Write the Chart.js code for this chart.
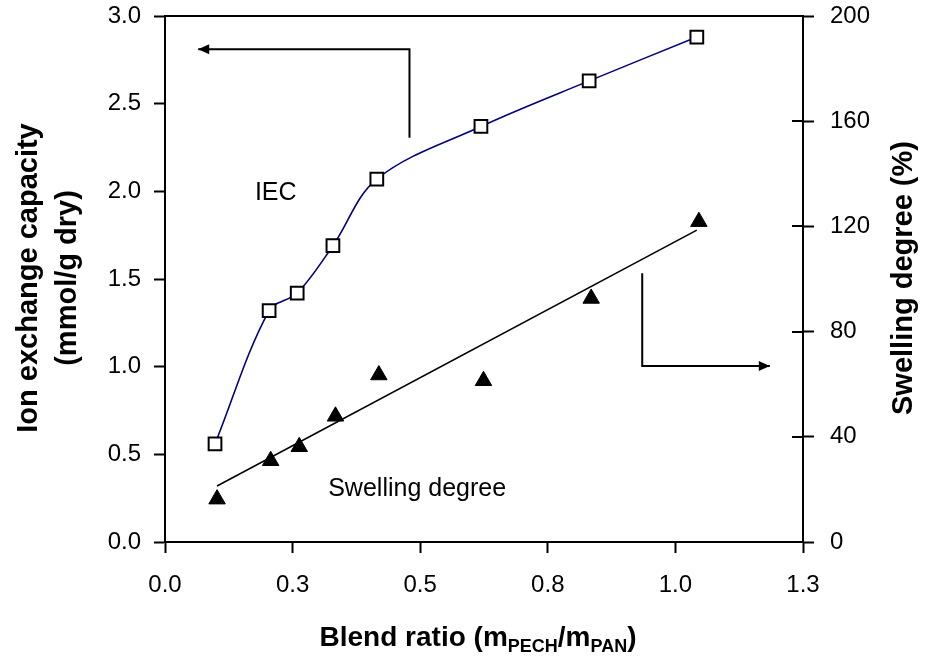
<!DOCTYPE html>
<html>
<head>
<meta charset="utf-8">
<script src="https://cdn.jsdelivr.net/npm/chart.js@4.4.1/dist/chart.umd.min.js"></script>
<style>
  html, body { margin: 0; padding: 0; background: #ffffff; }
  #IecSwellingStats { display: block; }
</style>
</head>
<body>
<canvas id="IecSwellingStats" width="925" height="660"></canvas>
<script>
//
//
// Data
var iecRatio = [0.098, 0.204, 0.259, 0.329, 0.415, 0.619, 0.831, 1.042];
var iecValue = [0.56, 1.32, 1.42, 1.69, 2.07, 2.37, 2.63, 2.88];

var swellRatio = [0.102, 0.207, 0.263, 0.334, 0.419, 0.624, 0.835, 1.046];
var swellValue = [16.3, 30.9, 36.2, 47.8, 63.5, 61.3, 92.6, 121.8];

// linear trend drawn through the swelling points (end points)
var trendRatio = [0.102, 1.042];
var trendValue = [21.3, 118.6];

var xTickLabels = ['0.0', '0.3', '0.5', '0.8', '1.0', '1.3'];
var yTickLabels = ['0.0', '0.5', '1.0', '1.5', '2.0', '2.5', '3.0'];
var y1TickLabels = ['0', '40', '80', '120', '160', '200'];

var FONT = "'Liberation Sans', Arial, Helvetica, sans-serif";

function toPoints(xs, ys){
  var pts = [];
  for (var i = 0; i < xs.length; i++){
    pts.push({ x: xs[i], y: ys[i] });
  }
  return pts;
}

//
//
// Arrow helper (polyline ending in a filled head)
function drawArrow(ctx, pts){
  ctx.beginPath();
  ctx.moveTo(pts[0][0], pts[0][1]);
  for (var i = 1; i < pts.length; i++){
    ctx.lineTo(pts[i][0], pts[i][1]);
  }
  ctx.stroke();

  var a = pts[pts.length - 2];
  var b = pts[pts.length - 1];
  var ang = Math.atan2(b[1] - a[1], b[0] - a[0]);
  var len = 11, half = 5;
  ctx.beginPath();
  ctx.moveTo(b[0], b[1]);
  ctx.lineTo(b[0] - len * Math.cos(ang) + half * Math.sin(ang), b[1] - len * Math.sin(ang) - half * Math.cos(ang));
  ctx.lineTo(b[0] - len * Math.cos(ang) - half * Math.sin(ang), b[1] - len * Math.sin(ang) + half * Math.cos(ang));
  ctx.closePath();
  ctx.fill();
}

//
//
// Extra drawing: frame, arrows, labels, axis titles
var extrasPlugin = {
  id: 'extras',
  afterDraw: function(chart){
    var ctx = chart.ctx;
    var area = chart.chartArea;
    var xs = chart.scales.x;
    var ys = chart.scales.y;
    var ys1 = chart.scales.y1;

    ctx.save();
    ctx.strokeStyle = '#000';
    ctx.fillStyle = '#000';
    ctx.lineWidth = 2;

    // top frame line
    ctx.beginPath();
    ctx.moveTo(area.left - 1, area.top);
    ctx.lineTo(area.right + 1, area.top);
    ctx.stroke();

    // right axis ticks cross the axis
    ys1.ticks.forEach(function(t){
      var py = Math.round(ys1.getPixelForValue(t.value));
      ctx.beginPath();
      ctx.moveTo(area.right - 11, py);
      ctx.lineTo(area.right, py);
      ctx.stroke();
    });

    // arrow pointing to the IEC axis
    drawArrow(ctx, [
      [xs.getPixelForValue(0.479), ys.getPixelForValue(2.306)],
      [xs.getPixelForValue(0.479), ys.getPixelForValue(2.81)],
      [xs.getPixelForValue(0.065), ys.getPixelForValue(2.81)]
    ]);

    // arrow pointing to the swelling axis
    drawArrow(ctx, [
      [xs.getPixelForValue(0.935), ys1.getPixelForValue(102.2)],
      [xs.getPixelForValue(0.935), ys1.getPixelForValue(66.9)],
      [xs.getPixelForValue(1.185), ys1.getPixelForValue(66.9)]
    ]);

    // series labels
    ctx.font = '25px ' + FONT;
    ctx.textAlign = 'center';
    ctx.textBaseline = 'middle';
    ctx.fillText('IEC', xs.getPixelForValue(0.217), ys.getPixelForValue(1.99));
    ctx.fillText('Swelling degree', xs.getPixelForValue(0.494), ys1.getPixelForValue(20.2));

    // left axis title
    ctx.save();
    ctx.translate(29, 278);
    ctx.rotate(-Math.PI / 2);
    ctx.font = 'bold 29px ' + FONT;
    ctx.fillText('Ion exchange capacity', 0, 0);
    ctx.fillText('(mmol/g dry)', 0, 39);
    ctx.restore();

    // right axis title
    ctx.save();
    ctx.translate(904, 278);
    ctx.rotate(-Math.PI / 2);
    ctx.font = 'bold 29px ' + FONT;
    ctx.fillText('Swelling degree (%)', 0, 0);
    ctx.restore();

    // x axis title with subscripts
    var parts = [
      ['Blend ratio (m', false],
      ['PECH', true],
      ['/m', false],
      ['PAN', true],
      [')', false]
    ];
    var bigFont = 'bold 28px ' + FONT;
    var subFont = 'bold 18px ' + FONT;
    var total = 0;
    parts.forEach(function(p){
      ctx.font = p[1] ? subFont : bigFont;
      total += ctx.measureText(p[0]).width;
    });
    var cx = 478 - total / 2;
    var baseY = 646;
    ctx.textAlign = 'left';
    ctx.textBaseline = 'alphabetic';
    parts.forEach(function(p){
      ctx.font = p[1] ? subFont : bigFont;
      ctx.fillText(p[0], cx, p[1] ? baseY + 6 : baseY);
      cx += ctx.measureText(p[0]).width;
    });

    ctx.restore();
  }
};

//
//
// Fixed box sizes so the plot area sits where the figure has it
function fixVertical(width){
  return function(scale){
    scale.width = width;
    scale.paddingTop = 0;
    scale.paddingBottom = 0;
  };
}

//
//
// Draw Chart
var canvas = document.getElementById('IecSwellingStats');
var tickFont = { family: FONT, size: 24 };

new Chart(canvas.getContext('2d'), {
  type: 'line',
  data: {
    datasets: [{
      label: 'IEC',
      data: toPoints(iecRatio, iecValue),
      yAxisID: 'y',
      borderColor: '#000080',
      borderWidth: 1.6,
      tension: 0.35,
      pointStyle: 'rect',
      pointRadius: 9,
      pointBorderWidth: 2,
      pointBorderColor: '#000',
      pointBackgroundColor: '#fff',
      order: 1
    }, {
      label: 'Swelling degree',
      data: toPoints(swellRatio, swellValue),
      yAxisID: 'y1',
      showLine: false,
      pointStyle: 'triangle',
      pointRadius: 9.5,
      pointBorderWidth: 1,
      pointBorderColor: '#000',
      pointBackgroundColor: '#000',
      order: 2
    }, {
      label: 'Swelling trend',
      data: toPoints(trendRatio, trendValue),
      yAxisID: 'y1',
      borderColor: '#000',
      borderWidth: 1.6,
      pointRadius: 0,
      tension: 0,
      order: 3
    }]
  },
  options: {
    responsive: false,
    animation: false,
    events: [],
    layout: { padding: { top: 16, left: 0, right: 0, bottom: 0 } },
    plugins: {
      legend: { display: false },
      tooltip: { enabled: false }
    },
    scales: {
      x: {
        type: 'linear',
        position: 'bottom',
        min: 0,
        max: 1.25,
        ticks: {
          stepSize: 0.25,
          autoSkip: false,
          maxRotation: 0,
          padding: 18,
          color: '#000',
          font: tickFont,
          callback: function(value, index){ return xTickLabels[index]; }
        },
        grid: { drawOnChartArea: false, drawTicks: true, tickLength: 11, tickWidth: 2, tickColor: '#000' },
        border: { display: true, color: '#000', width: 2 },
        afterFit: function(scale){ scale.height = 118; }
      },
      y: {
        type: 'linear',
        position: 'left',
        min: 0,
        max: 3,
        ticks: {
          stepSize: 0.5,
          padding: 13,
          color: '#000',
          font: tickFont,
          callback: function(value, index){ return yTickLabels[index]; }
        },
        grid: { drawOnChartArea: false, drawTicks: true, tickLength: 11, tickWidth: 2, tickColor: '#000' },
        border: { display: true, color: '#000', width: 2 },
        afterFit: fixVertical(165)
      },
      y1: {
        type: 'linear',
        position: 'right',
        min: 0,
        max: 200,
        ticks: {
          stepSize: 40,
          padding: 16,
          color: '#000',
          font: tickFont,
          callback: function(value, index){ return y1TickLabels[index]; }
        },
        grid: { drawOnChartArea: false, drawTicks: true, tickLength: 11, tickWidth: 2, tickColor: '#000' },
        border: { display: true, color: '#000', width: 2 },
        afterFit: fixVertical(122)
      }
    }
  },
  plugins: [extrasPlugin]
});
</script>
</body>
</html>
